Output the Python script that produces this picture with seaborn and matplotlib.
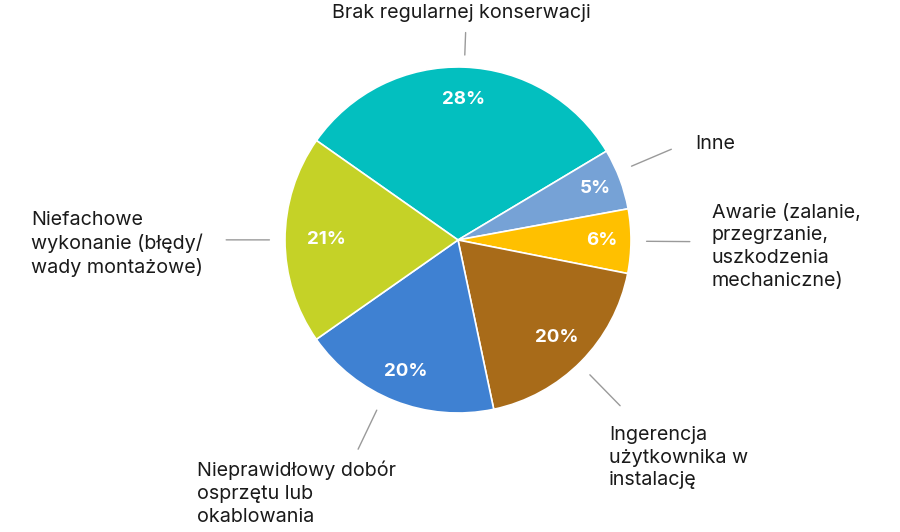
import matplotlib
matplotlib.use("Agg")
import matplotlib.pyplot as plt
import seaborn as sns
import numpy as np

categories = [
    "Brak regularnej konserwacji",
    "Inne",
    "Awarie (zalanie,\nprzegrzanie,\nuszkodzenia\nmechaniczne)",
    "Ingerencja\nużytkownika w\ninstalację",
    "Nieprawidłowy dobór\nosprzętu lub\nokablowania",
    "Niefachowe\nwykonanie (błędy/\nwady montażowe)",
]
values = [31.7, 5.7, 6.0, 18.6, 18.6, 19.5]
pct_labels = ["28%", "5%", "6%", "20%", "20%", "21%"]
colors = ["#03BFBF", "#76A2D6", "#FFC000", "#A86B19", "#3F81D2", "#C5D227"]

sns.set_theme(style="white")
plt.rcParams["font.family"] = ["Inter", "DejaVu Sans"]

fig = plt.figure(figsize=(9, 5.32), dpi=100)
ax = fig.add_axes([0, 0, 1, 1])
R = 173.0
cx, cy = 458.0, 532 - 240.0

wedges, _ = ax.pie(values, colors=colors, startangle=144.9, counterclock=False,
                   radius=1, wedgeprops=dict(edgecolor="white", linewidth=1.2))
ax.set_aspect("auto")
ax.set_xlim(-cx / R, (900 - cx) / R)
ax.set_ylim(-cy / R, (532 - cy) / R)
ax.axis("off")

pct_r = [0.815, 0.85, 0.83, 0.80, 0.82, 0.76]
line_r = [(1.07, 1.2), (1.09, 1.34), (1.09, 1.34), (1.09, 1.34), (1.09, 1.34), (1.09, 1.34)]
line_dang = [0, 2.4, 0, -1, -4, 0]
offsets = [(-4, 20), (24, 5), (22, -5), (-11, -52), (-161, -44), (-23, -4)]
has = ["center", "left", "left", "left", "left", "right"]

for i, w in enumerate(wedges):
    th = np.deg2rad((w.theta1 + w.theta2) / 2)
    c, s = np.cos(th), np.sin(th)
    ax.text(pct_r[i] * c, pct_r[i] * s, pct_labels[i], color="white",
            fontsize=13.5, fontweight="bold", ha="center", va="center")
    th2 = th + np.deg2rad(line_dang[i])
    c2, s2 = np.cos(th2), np.sin(th2)
    r0, r1 = line_r[i]
    ax.plot([r0 * c2, r1 * c2], [r0 * s2, r1 * s2], color="#9a9a9a", lw=1)
    ax.annotate(categories[i], xy=(r1 * c2, r1 * s2), xytext=offsets[i],
                textcoords="offset pixels", ha=has[i], va="center",
                multialignment="left", fontsize=14.2, color="#1a1a1a",
                linespacing=1.33)

fig.savefig("out.png", dpi=100)
